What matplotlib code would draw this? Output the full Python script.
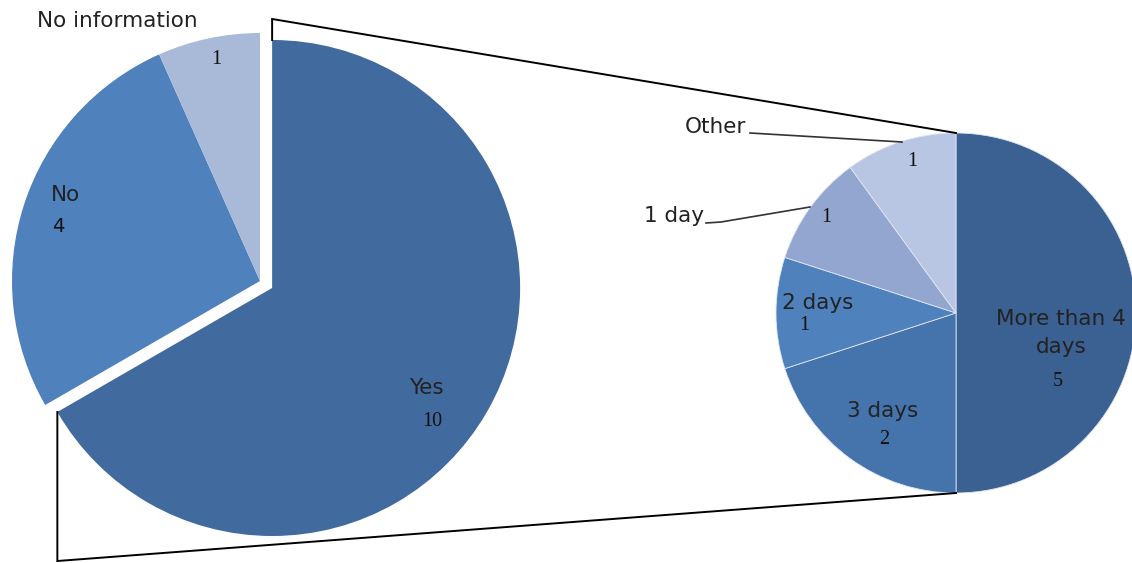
import matplotlib.pyplot as plt
import numpy as np

# main pie: did the respondents take leave
main_labels = ["Yes", "No", "No information"]
main_values = [10, 4, 1]
main_colors = ["#416a9e", "#4f81bd", "#a9b9d8"]

# breakdown of the "Yes" group by length of leave
sub_labels = ["More than 4\ndays", "3 days", "2 days", "1 day", "Other"]
sub_values = [5, 2, 1, 1, 1]
sub_colors = ["#3b6092", "#4573ab", "#4f81bd", "#93a6cf", "#b9c6e3"]

W, H = 1132, 563

def py(y):
    # pixel row (top = 0) -> data y
    return H - y

fig = plt.figure(figsize=(W / 100, H / 100), dpi=100)
ax = fig.add_axes([0, 0, 1, 1])

# left pie, "Yes" pulled out a little
main_c = (260, py(281))
main_r = 248
expl = 14
ax.pie(main_values, colors=main_colors, startangle=90, counterclock=False,
       center=main_c, radius=main_r, explode=[expl, 0, 0],
       wedgeprops=dict(linewidth=0))

# right pie
sub_c = (956, py(313))
sub_r = 180
ax.pie(sub_values, colors=sub_colors, startangle=90, counterclock=False,
       center=sub_c, radius=sub_r,
       wedgeprops=dict(linewidth=0.6, edgecolor="#dfe6f2"))

ax.set_xlim(0, W)
ax.set_ylim(0, H)
ax.set_aspect("equal")
ax.axis("off")

# connector lines from the exploded "Yes" wedge to the right pie
yes_span = 360.0 * main_values[0] / sum(main_values)
mid = np.radians(90 - yes_span / 2)
ycx = main_c[0] + expl * np.cos(mid)
ycy = main_c[1] + expl * np.sin(mid)
top_pt = (ycx, ycy + main_r)
end_ang = np.radians(90 - yes_span)
bot_pt = (ycx + main_r * np.cos(end_ang), ycy + main_r * np.sin(end_ang))

ax.plot([top_pt[0], top_pt[0], sub_c[0]],
        [top_pt[1], py(19), sub_c[1] + sub_r], color="black", lw=1.4,
        solid_joinstyle="miter")
ax.plot([bot_pt[0], bot_pt[0], sub_c[0]],
        [bot_pt[1], py(561), sub_c[1] - sub_r], color="black", lw=1.4,
        solid_joinstyle="miter")

lab = dict(fontsize=15.5, color="#222222", family="DejaVu Sans")
num = dict(fontsize=14.5, color="#111111", family="Liberation Serif")

# left pie labels
ax.text(37, py(21), main_labels[2], ha="left", va="center", **lab)
ax.text(216, py(59), str(main_values[2]), ha="center", va="center", **num)
ax.text(51, py(195), main_labels[1], ha="left", va="center", **lab)
ax.text(52, py(227), str(main_values[1]), ha="left", va="center",
        fontsize=14, color="#111111", family="DejaVu Sans")
ax.text(426, py(388), main_labels[0], ha="center", va="center", **lab)
ax.text(432, py(422), str(main_values[0]), ha="center", va="center", **num)

# right pie labels
ax.text(1061, py(333), sub_labels[0], ha="center", va="center",
        linespacing=1.45, **lab)
ax.text(1058, py(382), str(sub_values[0]), ha="center", va="center", **num)
ax.text(883, py(411), sub_labels[1], ha="center", va="center", **lab)
ax.text(884, py(439), str(sub_values[1]), ha="center", va="center", **num)
ax.text(818, py(303), sub_labels[2], ha="center", va="center", **lab)
ax.text(804, py(326), str(sub_values[2]), ha="center", va="center", **num)
ax.text(704, py(216), sub_labels[3], ha="right", va="center", **lab)
ax.text(826, py(218), str(sub_values[3]), ha="center", va="center", **num)
ax.text(746, py(127), sub_labels[4], ha="right", va="center", **lab)
ax.text(912, py(161), str(sub_values[4]), ha="center", va="center", **num)

# leader lines for the small slices
ax.plot([706, 721, 810], [py(223), py(222), py(207)], color="#333333", lw=1.2)
ax.plot([750, 902], [py(133), py(142)], color="#333333", lw=1.2)

fig.savefig("out.png", dpi=100)
